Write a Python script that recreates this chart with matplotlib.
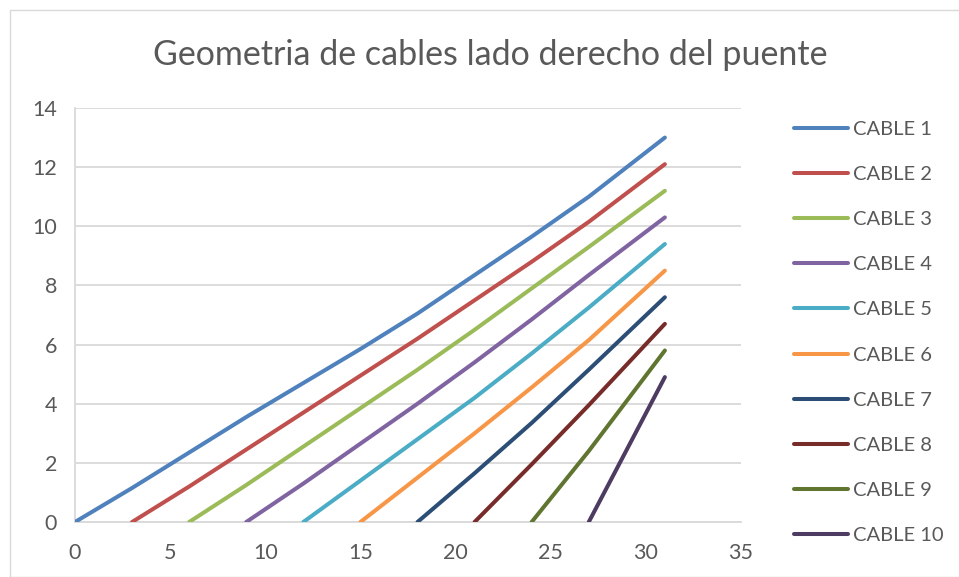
import matplotlib
matplotlib.use("Agg")
import matplotlib.pyplot as plt
from matplotlib.patches import Rectangle

plt.rcParams['font.family'] = ['Lato', 'DejaVu Sans']

title = "Geometria de cables lado derecho del puente"
labels = ["CABLE 1", "CABLE 2", "CABLE 3", "CABLE 4", "CABLE 5",
          "CABLE 6", "CABLE 7", "CABLE 8", "CABLE 9", "CABLE 10"]
colors = ["#4F81BD", "#C0504D", "#9BBB59", "#8064A2", "#4BACC6",
          "#F79646", "#2C4D75", "#772C2A", "#5F7530", "#4D3B62"]

cable1_x = [0, 3, 6, 9, 12, 15, 18, 21, 24, 27, 31]
cable1_y = [0, 1.15, 2.35, 3.55, 4.7, 5.85, 7.05, 8.35, 9.65, 11.0, 13.0]
cable2_x = [3, 6, 9, 12, 15, 18, 21, 24, 27, 31]
cable2_y = [0, 1.2, 2.45, 3.7, 4.95, 6.2, 7.5, 8.8, 10.15, 12.1]
cable3_x = [6, 9, 12, 15, 18, 21, 24, 27, 31]
cable3_y = [0, 1.25, 2.55, 3.85, 5.15, 6.5, 7.9, 9.3, 11.2]
cable4_x = [9, 12, 15, 18, 21, 24, 27, 31]
cable4_y = [0, 1.3, 2.65, 4.0, 5.4, 6.85, 8.35, 10.3]
cable5_x = [12, 15, 18, 21, 24, 27, 31]
cable5_y = [0, 1.4, 2.8, 4.2, 5.7, 7.25, 9.4]
cable6_x = [15, 18, 21, 24, 27, 31]
cable6_y = [0, 1.5, 3.0, 4.55, 6.15, 8.5]
cable7_x = [18, 21, 24, 27, 31]
cable7_y = [0, 1.65, 3.35, 5.15, 7.6]
cable8_x = [21, 24, 27, 31]
cable8_y = [0, 1.95, 3.95, 6.7]
cable9_x = [24, 27, 31]
cable9_y = [0, 2.4, 5.8]
cable10_x = [27, 31]
cable10_y = [0, 4.9]

xs = [cable1_x, cable2_x, cable3_x, cable4_x, cable5_x,
      cable6_x, cable7_x, cable8_x, cable9_x, cable10_x]
ys = [cable1_y, cable2_y, cable3_y, cable4_y, cable5_y,
      cable6_y, cable7_y, cable8_y, cable9_y, cable10_y]

x_ticks = [0, 5, 10, 15, 20, 25, 30, 35]
y_ticks = [0, 2, 4, 6, 8, 10, 12, 14]

fig = plt.figure(figsize=(9.59, 5.77), dpi=100)
fig.patches.append(Rectangle((10/959, 0.0), 1.0, 1 - 10/577, transform=fig.transFigure,
                             fill=False, edgecolor="#D9D9D9", linewidth=1.0))
ax = fig.add_axes([75/959, 1 - 522/577, (741 - 75)/959, (522 - 108)/577])

for x, y, c, l in zip(xs, ys, colors, labels):
    ax.plot(x, y, color=c, linewidth=2.9, label=l, solid_capstyle='round',
            solid_joinstyle='round', zorder=3)

ax.set_xlim(0, 35)
ax.set_ylim(0, 14)
ax.set_xticks(x_ticks)
ax.set_yticks(y_ticks)
ax.grid(axis='y', color="#D9D9D9", linewidth=1.3)
ax.set_axisbelow(True)
for s in ['top', 'right']:
    ax.spines[s].set_visible(False)
ax.spines['left'].set_color("#D9D9D9")
ax.spines['bottom'].set_color("#D9D9D9")
ax.spines['left'].set_linewidth(1.3)
ax.spines['bottom'].set_linewidth(1.3)
ax.tick_params(axis='both', colors="#595959", labelsize=15.5, length=0)
ax.tick_params(axis='y', pad=13)
ax.tick_params(axis='x', pad=15)

fig.text(490/959, 1 - 55/577, title, ha='center', va='center',
         fontsize=24.5, color="#595959")

leg = fig.legend(loc='upper left', bbox_to_anchor=(794/959, 1 - 121/577),
                 frameon=False, fontsize=14.5, handlelength=2.7,
                 handletextpad=0.25, labelspacing=1.39, borderaxespad=0,
                 borderpad=0)
for t in leg.get_texts():
    t.set_color("#595959")

fig.savefig("out.png", dpi=100)
